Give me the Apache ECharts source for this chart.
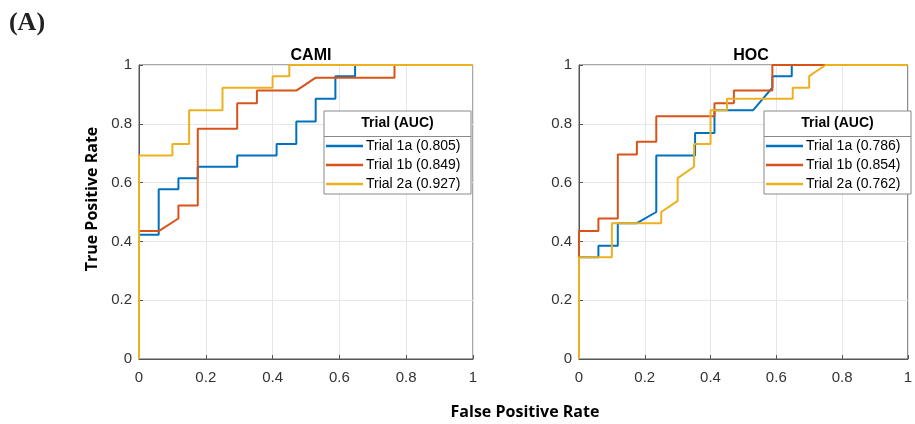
<!DOCTYPE html>
<html>
<head>
<meta charset="utf-8">
<script src="https://cdn.jsdelivr.net/npm/echarts@6/dist/echarts.min.js"></script>
<style>
  html, body { margin: 0; padding: 0; background: #fff; }
  #main { width: 915px; height: 424px; }
</style>
</head>
<body>
<div id="main"></div>
<script>
// ROC points, [FPR, TPR]
const cami_1a = [[0,0],[0,0.423],[0.059,0.423],[0.059,0.577],[0.118,0.577],[0.118,0.615],[0.176,0.615],[0.176,0.654],[0.294,0.654],[0.294,0.692],[0.412,0.692],[0.412,0.731],[0.471,0.731],[0.471,0.808],[0.529,0.808],[0.529,0.885],[0.588,0.885],[0.588,0.962],[0.647,0.962],[0.647,1],[1,1]];
const cami_1b = [[0,0],[0,0.435],[0.059,0.435],[0.118,0.478],[0.118,0.522],[0.176,0.522],[0.176,0.783],[0.294,0.783],[0.294,0.870],[0.353,0.870],[0.353,0.913],[0.471,0.913],[0.529,0.957],[0.765,0.957],[0.765,1],[1,1]];
const cami_2a = [[0,0],[0,0.692],[0.1,0.692],[0.1,0.731],[0.15,0.731],[0.15,0.846],[0.25,0.846],[0.25,0.923],[0.4,0.923],[0.4,0.962],[0.45,0.962],[0.45,1],[1,1]];

const hoc_1a = [[0,0],[0,0.346],[0.059,0.346],[0.059,0.385],[0.118,0.385],[0.118,0.462],[0.176,0.462],[0.235,0.5],[0.235,0.692],[0.353,0.692],[0.353,0.769],[0.412,0.769],[0.412,0.846],[0.529,0.846],[0.588,0.923],[0.588,0.962],[0.647,0.962],[0.647,1],[1,1]];
const hoc_1b = [[0,0],[0,0.435],[0.059,0.435],[0.059,0.478],[0.118,0.478],[0.118,0.696],[0.176,0.696],[0.176,0.739],[0.235,0.739],[0.235,0.826],[0.412,0.826],[0.412,0.870],[0.471,0.870],[0.471,0.913],[0.588,0.913],[0.588,1],[1,1]];
const hoc_2a = [[0,0],[0,0.346],[0.1,0.346],[0.1,0.462],[0.25,0.462],[0.25,0.5],[0.3,0.538],[0.3,0.615],[0.35,0.654],[0.35,0.731],[0.4,0.731],[0.4,0.846],[0.45,0.846],[0.45,0.885],[0.65,0.885],[0.65,0.923],[0.7,0.923],[0.7,0.962],[0.75,1],[1,1]];

const panel_titles = ['CAMI', 'HOC'];
const cami_names = ['Trial 1a (0.805)', 'Trial 1b (0.849)', 'Trial 2a (0.927)'];
const hoc_names = ['Trial 1a (0.786)', 'Trial 1b (0.854)', 'Trial 2a (0.762)'];

const colors = ['#0072BD', '#D95319', '#EDB120']; // matlab default order
const font = '"Liberation Sans", Arial, sans-serif';
const labelFont = '"Open Sans", sans-serif'; // closest to the calibri-ish axis names
const axisColor = '#555';

const Chart = echarts.init(document.getElementById('main'), null, { renderer: 'canvas' });

function make_axis(i, isX) {
    return {
        type: 'value',
        gridIndex: i,
        min: 0,
        max: 1,
        interval: 0.2,
        axisLine: { show: true, lineStyle: { color: axisColor, width: 1 } },
        axisTick: { show: true, inside: true, length: 4, lineStyle: { color: axisColor } },
        axisLabel: { fontFamily: font, fontSize: 15, color: '#333', margin: isX ? 11 : 7 },
        splitLine: { show: true, lineStyle: { color: '#e6e6e6', width: 1 } }
    };
}

function make_series(name, data, k, i) {
    return {
        name: name,
        type: 'line',
        xAxisIndex: i,
        yAxisIndex: i,
        data: data,
        showSymbol: false,
        clip: false,
        animation: false,
        lineStyle: { color: colors[k], width: 2 },
        itemStyle: { color: colors[k] }
    };
}

// legend box + title (the legend itself only does the entries)
function legend_box(x) {
    return [{
        type: 'rect',
        shape: { x: x, y: 111, width: 147, height: 83 },
        style: { fill: '#fff', stroke: '#8a8a8a', lineWidth: 1 },
        z: 50
    }, {
        type: 'line',
        shape: { x1: x, y1: 136.5, x2: x + 147, y2: 136.5 },
        style: { stroke: '#8a8a8a', lineWidth: 1 },
        z: 51
    }, {
        type: 'text',
        x: x + 73.5,
        y: 123.5,
        style: { text: 'Trial (AUC)', fontFamily: font, fontWeight: 'bold', fontSize: 14, fill: '#000', align: 'center', verticalAlign: 'middle' },
        z: 51
    }];
}

function make_legend(names, x) {
    return {
        data: names,
        orient: 'vertical',
        left: x,
        top: 139,
        padding: 0,
        itemGap: 5,
        itemWidth: 37,
        itemHeight: 2.5,
        icon: 'rect',
        selectedMode: false,
        z: 60,
        textStyle: { fontFamily: font, fontSize: 14, color: '#000', lineHeight: 14, padding: [0, 0, 0, -2] }
    };
}

var option = {
    backgroundColor: '#fff',
    animation: false,
    title: [{
        text: panel_titles[0], left: 306, top: 43, textAlign: 'center',
        textStyle: { fontFamily: font, fontWeight: 'bold', fontSize: 16, color: '#000' }
    }, {
        text: panel_titles[1], left: 746, top: 43, textAlign: 'center',
        textStyle: { fontFamily: font, fontWeight: 'bold', fontSize: 16, color: '#000' }
    }],
    grid: [
        { left: 139, width: 334, top: 65, bottom: 65, show: true, borderColor: axisColor, borderWidth: 1 },
        { left: 579, width: 334, top: 65, bottom: 65, show: true, borderColor: axisColor, borderWidth: 1 }
    ],
    xAxis: [make_axis(0, true), make_axis(1, true)],
    yAxis: [make_axis(0, false), make_axis(1, false)],
    legend: [make_legend(cami_names, 326), make_legend(hoc_names, 766)],
    graphic: [].concat(legend_box(324), legend_box(764), [{
        type: 'text',
        x: 27,
        y: 23,
        style: { text: '(A)', fontFamily: '"Liberation Serif", serif', fontWeight: 'bold', fontSize: 26, fill: '#222', align: 'center', verticalAlign: 'middle' }
    }, {
        type: 'text',
        x: 92,
        y: 199,
        rotation: Math.PI / 2,
        style: { text: 'True Positive Rate', fontFamily: labelFont, fontWeight: 'bold', fontSize: 16, fill: '#000', align: 'center', verticalAlign: 'middle' }
    }, {
        type: 'text',
        x: 525,
        y: 412,
        style: { text: 'False Positive Rate', fontFamily: labelFont, fontWeight: 'bold', fontSize: 16, fill: '#000', align: 'center', verticalAlign: 'middle' }
    }]),
    series: [
        make_series(cami_names[0], cami_1a, 0, 0),
        make_series(cami_names[1], cami_1b, 1, 0),
        make_series(cami_names[2], cami_2a, 2, 0),
        make_series(hoc_names[0], hoc_1a, 0, 1),
        make_series(hoc_names[1], hoc_1b, 1, 1),
        make_series(hoc_names[2], hoc_2a, 2, 1)
    ]
};

Chart.setOption(option, true);
</script>
</body>
</html>
